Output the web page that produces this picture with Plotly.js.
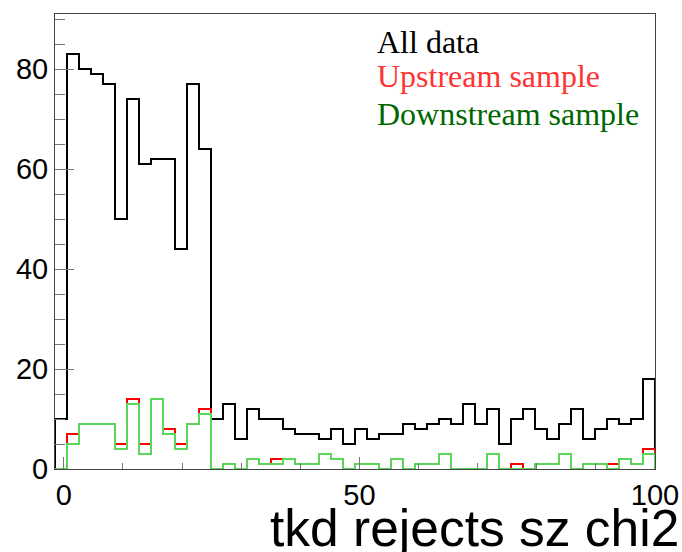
<!DOCTYPE html>
<html>
<head>
<meta charset="utf-8">
<script src="https://cdn.plot.ly/plotly-3.0.1.min.js"></script>
<style>html,body{margin:0;padding:0;background:#fff;}#chart{width:682px;height:552px;}</style>
</head>
<body>
<div id="chart"></div>
<script>
// Histogram: 50 bins from -1.5 to 100
const xMin = -1.5;
const xMax = 100;
const nBins = 50;
const allData = [10,83,80,79,77,50,74,61,62,62,44,77,64,10,13,6,12,10,10,8,7,7,6,8,5,8,6,7,7,9,8,9,10,9,13,9,12,5,10,12,8,6,9,12,6,8,10,9,10,18];
const upstream = [0,7,9,9,9,5,14,5,14,8,5,9,12,0,1,0,2,1,2,2,1,1,3,2,0,1,1,0,2,0,1,1,3,0,0,0,3,0,1,0,1,1,3,0,1,1,1,2,1,4];
const downstream = [0,5,9,9,9,4,13,3,14,7,4,9,11,0,1,0,2,1,1,2,1,1,3,2,0,1,1,0,2,0,1,1,3,0,0,0,3,0,0,0,1,1,3,0,1,1,0,2,1,3];
const legendLabels = ["All data", "Upstream sample", "Downstream sample"];
const xTitle = "tkd rejects sz chi2";

const w = (xMax - xMin) / nBins;
function steps(vals) {
  const xs = [xMin], ys = [0];
  vals.forEach((v, i) => { xs.push(xMin + i * w); ys.push(v); });
  xs.push(xMax); ys.push(vals[vals.length - 1]);
  xs.push(xMax); ys.push(0);
  return {xs, ys};
}
const s1 = steps(allData), s2 = steps(upstream), s3 = steps(downstream);
const mk = (s, color, name) => ({
  type: 'scatter', mode: 'lines', x: s.xs, y: s.ys, name: name,
  line: {shape: 'hv', color: color, width: 2}, hoverinfo: 'skip'
});
const data = [
  mk(s1, '#000000', legendLabels[0]),
  mk(s2, '#ff0000', legendLabels[1]),
  mk(s3, '#5ad55a', legendLabels[2])
];
const tickFont = {family: '"Liberation Sans", Arial, sans-serif', size: 29, color: '#000'};
const serif = '"Liberation Serif", "Times New Roman", serif';
const layout = {
  width: 682, height: 552,
  margin: {l: 55, r: 27, t: 14, b: 83},
  paper_bgcolor: '#fff', plot_bgcolor: '#fff',
  showlegend: false,
  xaxis: {
    range: [xMin, xMax], showgrid: false, zeroline: false,
    showline: true, mirror: true, linecolor: '#444', linewidth: 1,
    tickmode: 'linear', tick0: 0, dtick: 50,
    ticks: 'inside', ticklen: 12, tickcolor: '#777', tickwidth: 1,
    minor: {dtick: 10, ticks: 'inside', ticklen: 6, tickcolor: '#777', tickwidth: 1, showgrid: false},
    tickfont: tickFont
  },
  yaxis: {
    range: [0, 91], showgrid: false, zeroline: false,
    showline: true, mirror: true, linecolor: '#444', linewidth: 1,
    tickmode: 'linear', tick0: 0, dtick: 20,
    ticks: 'inside', ticklen: 19, tickcolor: '#777', tickwidth: 1,
    minor: {dtick: 5, ticks: 'inside', ticklen: 10, tickcolor: '#777', tickwidth: 1, showgrid: false},
    tickfont: tickFont
  },
  annotations: [
    {xref: 'paper', yref: 'paper', x: 0.533, y: 0.9385, xanchor: 'left', yanchor: 'middle', showarrow: false,
     text: legendLabels[0], font: {family: serif, size: 32, color: '#000'}},
    {xref: 'paper', yref: 'paper', x: 0.533, y: 0.863, xanchor: 'left', yanchor: 'middle', showarrow: false,
     text: legendLabels[1], font: {family: serif, size: 32, color: '#ff3333'}},
    {xref: 'paper', yref: 'paper', x: 0.533, y: 0.781, xanchor: 'left', yanchor: 'middle', showarrow: false,
     text: legendLabels[2], font: {family: serif, size: 32, color: '#006600'}},
    {xref: 'paper', yref: 'paper', x: 1.0433, y: -0.1295, xanchor: 'right', yanchor: 'middle', showarrow: false,
     text: xTitle, font: {family: '"Liberation Sans", Arial, sans-serif', size: 51.5, color: '#000'}}
  ]
};
Plotly.newPlot('chart', data, layout, {staticPlot: true, displayModeBar: false});
</script>
</body>
</html>
